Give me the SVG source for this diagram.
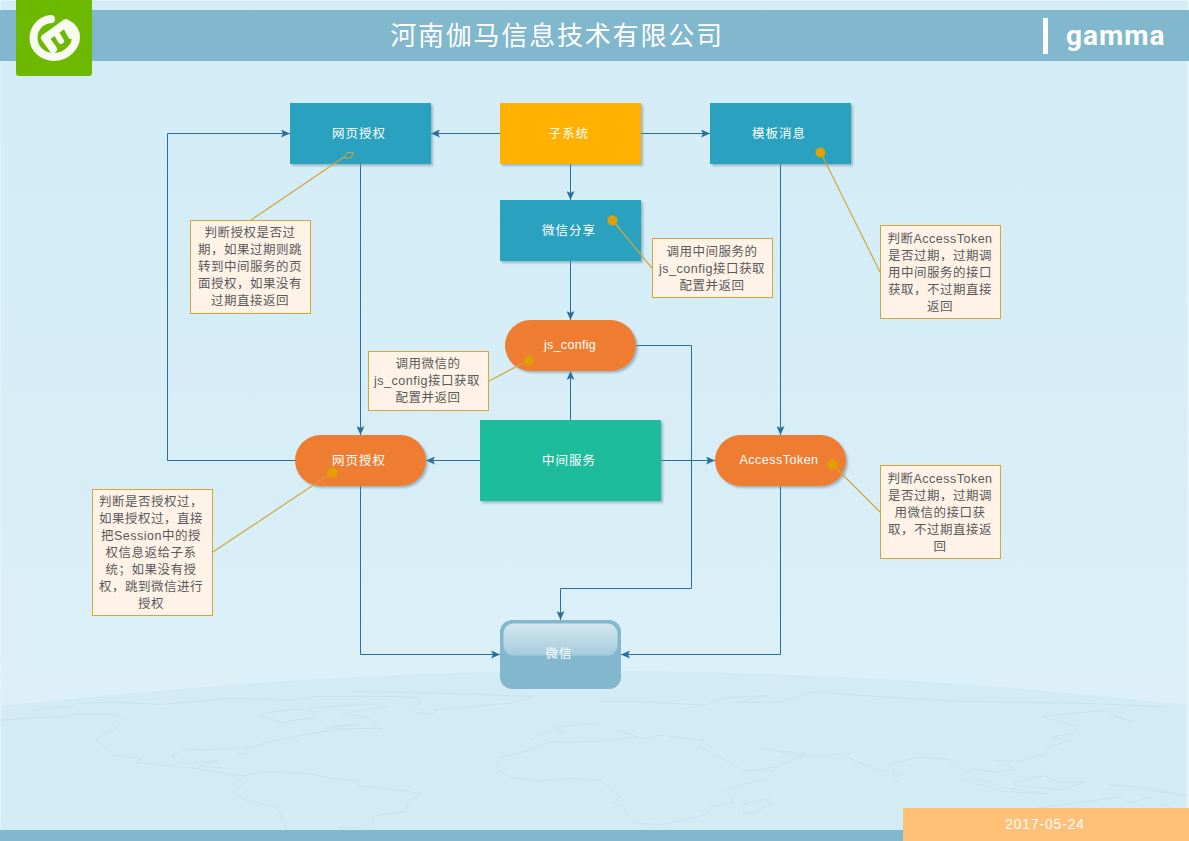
<svg xmlns="http://www.w3.org/2000/svg" width="1189" height="841" viewBox="0 0 1189 841">
<style>
.zh{font-family:"Liberation Sans","Noto Sans CJK SC",sans-serif}
.nt{font-size:12.5px;fill:#fff;text-anchor:middle;letter-spacing:1px}
.note{fill:#fff3e8;stroke:#d9a53a;stroke-width:1}
.nx{font-size:12.5px;fill:#595959;text-anchor:middle;letter-spacing:.5px}
.lead{fill:none;stroke:#d3a53c;stroke-width:1.200}
.dot{fill:#e0a000}
.c{fill:none;stroke:#2a6e9e;stroke-width:1;marker-end:url(#a)}
.map{fill:none;stroke:#c8e0ec;stroke-width:2}
</style>
<defs>
<marker id="a" markerWidth="10" markerHeight="8" refX="9" refY="4" orient="auto" markerUnits="userSpaceOnUse"><path d="M0 0L9 4L0 8L2 4Z" fill="#2a6e9e"/></marker>
<linearGradient id="bg" x1="0" y1="0" x2="0" y2="1"><stop offset="0" stop-color="#d3ecf6"/><stop offset=".55" stop-color="#d7eef7"/><stop offset=".85" stop-color="#ddf0f8"/><stop offset="1" stop-color="#ddf0f8"/></linearGradient>
<linearGradient id="gl" x1="0" y1="0" x2="0" y2="1"><stop offset="0" stop-color="#d6e8ef"/><stop offset="1" stop-color="#a4cbdb"/></linearGradient>
<filter id="s" x="-5%" y="-5%" width="115%" height="115%"><feDropShadow dx="2" dy="2" stdDeviation="1" flood-color="#6b8a99" flood-opacity=".55"/></filter>
</defs>
<g id="background">
<rect width="1189" height="841" fill="#e2f3f9"/>
<rect x="1" y="1" width="1186" height="839" fill="url(#bg)"/>
<path d="M1 706C250 680 420 671 595 671C800 671 1000 684 1186 705V841H1Z" fill="#d3ebf5"/>
<g transform="translate(0 660) scale(.3827)" class="map">
<path d="M0 157L100 150L170 148L180 140L290 140L320 150L305 180L260 198L252 212L285 235L300 250L325 252L370 258L355 268L480 280L545 288L590 298L640 302L680 292L800 295L870 310L935 315L940 330L1060 342L1105 350L1065 372L1060 395L975 408L975 425L930 440L885 438L910 450L845 462L860 490L900 502L800 492L755 465L740 420L725 385L640 365L605 345L640 322L600 300L545 288"/>
<path d="M80 135L130 125L190 122L200 113L300 110L420 116L600 100L760 105L830 95L1000 95L1095 98L1100 115L1072 122L1090 138L1130 142L1140 130L1340 112L1390 95L1100 85L920 82"/>
<path d="M675 142L770 128L830 135L815 152L760 158L740 165L675 142Z"/>
<path d="M810 125L960 115L1010 122L960 130L890 140L965 150L985 178L1000 180L850 178L940 168L870 172"/>
<path d="M640 232L720 210L800 195L850 185L960 178"/>
<path d="M450 250L480 235L620 232L625 246L650 246L640 232M450 250L465 270L510 270L570 262L520 278L590 282"/>
<path d="M1568 212L1430 216L1375 238L1305 255L1295 285L1340 308L1400 316L1490 310L1568 314M1385 208L1420 190L1475 185L1440 176L1568 165"/>
</g>
<g transform="translate(600 660) scale(.3756)" class="map">
<path d="M0 110L80 110L280 120L330 100L445 95L360 112L480 112L565 85L665 92L780 100L960 110L1280 115L1510 125L1420 120M1340 135L1420 165L1365 150M1175 150L1280 140L1340 135M1175 150L1270 175L1260 195L1205 205L1255 215L1195 230L1190 250L1110 270L1050 265L1105 290L1050 300L1000 290L975 300L930 265L850 258L780 275L760 300L730 290L640 250L550 258L425 235L550 250L470 285L385 295L285 240L260 230L280 215L160 200L120 210L40 185L100 205L0 215"/>
<path d="M385 295L465 295L440 315L335 345L355 378L295 392L285 410L170 438L90 435L60 390L35 380L55 365L0 320"/>
<path d="M380 405L385 382L455 368L460 380L410 408Z"/>
<path d="M780 298L810 305L785 312Z"/>
<path d="M950 315L1075 350L1185 356L1075 340L990 310"/>
<path d="M1105 325L1185 308L1220 325L1290 325L1230 345L1105 335Z"/>
<path d="M1350 332L1450 340L1560 360L1430 345"/>
<path d="M1105 438L1125 400L1230 385L1310 375L1380 365L1410 380L1470 365L1495 385L1545 400L1560 420L1480 445L1340 440L1240 432Z"/>
</g>
</g>
<g id="header">
<rect x="0" y="10" width="1189" height="51" fill="#81b8cd"/>
<text x="557" y="45" class="zh" font-size="26" fill="#fff" text-anchor="middle" letter-spacing="1.800">河南伽马信息技术有限公司</text>
<rect x="1043" y="18" width="5" height="36" fill="#fff"/>
<text x="1066" y="45" font-family="Roboto,'Liberation Sans',sans-serif" font-weight="700" font-size="28" fill="#fff" letter-spacing="1">gamma</text>
</g>
<g id="logo">
<rect x="16" y="-6" width="76" height="82" rx="3" fill="#6cb900"/>
<path d="M51 19C40 20 33.500 29 33.500 38C33.500 49 43 57 54 57C66 57 76 47 76 37C76 30 72 26 66 23L45 38L53 49" fill="none" stroke="#f8fbf2" stroke-width="8" stroke-linecap="round" stroke-linejoin="round"/>
<path d="M55 31L61 41M65 25L71 36" fill="none" stroke="#f8fbf2" stroke-width="6" stroke-linecap="round"/>
</g>
<g id="connectors">
<path class="c" d="M500 133.500H431"/>
<path class="c" d="M640 133.500H710"/>
<path class="c" d="M570.500 164V200"/>
<path class="c" d="M570.500 261V320"/>
<path class="c" d="M570.500 420V371"/>
<path class="c" d="M360.500 164V435"/>
<path class="c" d="M780.500 164V435"/>
<path class="c" d="M480 460.500H426"/>
<path class="c" d="M661 460.500H715"/>
<path class="c" d="M295 460.500H167.500V133.500H290"/>
<path class="c" d="M636 345.500H691.500V588.500H560.500V620"/>
<path class="c" d="M360.500 486V654.500H500"/>
<path class="c" d="M780.500 486V654.500H621"/>
</g>
<g id="n-wx-auth"><rect x="290" y="103" width="141" height="61" fill="#2ca2bf" filter="url(#s)"/><text x="359" y="138" class="zh nt">网页授权</text></g>
<g id="n-subsystem"><rect x="500" y="103" width="141" height="61" fill="#ffb000" filter="url(#s)"/><text x="569" y="138" class="zh nt">子系统</text></g>
<g id="n-template"><rect x="710" y="103" width="141" height="61" fill="#2ca2bf" filter="url(#s)"/><text x="779" y="138" class="zh nt">模板消息</text></g>
<g id="n-share"><rect x="500" y="200" width="141" height="61" fill="#2ca2bf" filter="url(#s)"/><text x="569" y="235" class="zh nt">微信分享</text></g>
<g id="n-jsconfig"><rect x="505" y="320" width="131" height="51" rx="25.500" fill="#ee7d31" filter="url(#s)"/><text x="570" y="349" class="zh nt" style="letter-spacing:.3px">js_config</text></g>
<g id="n-auth2"><rect x="295" y="435" width="131" height="51" rx="25.500" fill="#ee7d31" filter="url(#s)"/><text x="359" y="465" class="zh nt">网页授权</text></g>
<g id="n-token"><rect x="715" y="435" width="131" height="51" rx="25.500" fill="#ee7d31" filter="url(#s)"/><text x="779" y="464" class="zh nt" style="letter-spacing:.5px">AccessToken</text></g>
<g id="n-middle"><rect x="480" y="420" width="181" height="81" fill="#1abc9c" filter="url(#s)"/><text x="569" y="465" class="zh nt">中间服务</text></g>
<g id="n-wechat"><rect x="500" y="620" width="121" height="69" rx="12" fill="#81b8cd"/><rect x="503.500" y="623.500" width="114" height="32" rx="10" fill="url(#gl)"/><text x="559" y="658" class="zh nt">微信</text></g>
<g id="note-1">
<path class="lead" d="M251 220L344 157"/>
<path d="M344 157L347.500 152.500H353.500L350.500 158H345Z" fill="none" stroke="#d3a53c" stroke-width="1"/>
<rect class="note" x="190.500" y="220.500" width="120" height="93"/>
<text class="zh nx"><tspan x="250" y="237">判断授权是否过</tspan><tspan x="250" y="254">期，如果过期则跳</tspan><tspan x="250" y="271">转到中间服务的页</tspan><tspan x="250" y="288">面授权，如果没有</tspan><tspan x="250" y="305">过期直接返回</tspan></text>
</g>
<g id="note-2">
<path class="lead" d="M613 221L652 268"/>
<circle class="dot" cx="612.500" cy="220.500" r="5"/>
<rect class="note" x="652.500" y="238.500" width="120" height="59"/>
<text class="zh nx"><tspan x="712" y="256">调用中间服务的</tspan><tspan x="712" y="273">js_config接口获取</tspan><tspan x="712" y="290">配置并返回</tspan></text>
</g>
<g id="note-3">
<path class="lead" d="M821 153L880 272"/>
<circle class="dot" cx="820.500" cy="152.500" r="5"/>
<rect class="note" x="880.500" y="225.500" width="120" height="93"/>
<text class="zh nx"><tspan x="940" y="243">判断AccessToken</tspan><tspan x="940" y="260">是否过期，过期调</tspan><tspan x="940" y="277">用中间服务的接口</tspan><tspan x="940" y="294">获取，不过期直接</tspan><tspan x="940" y="311">返回</tspan></text>
</g>
<g id="note-4">
<path class="lead" d="M529 360L489 381"/>
<circle class="dot" cx="529" cy="360.500" r="5"/>
<rect class="note" x="368.500" y="351.500" width="120" height="59"/>
<text class="zh nx"><tspan x="428" y="368">调用微信的</tspan><tspan x="427" y="385">js_config接口获取</tspan><tspan x="428" y="402">配置并返回</tspan></text>
</g>
<g id="note-5">
<path class="lead" d="M333 472L213 552"/>
<circle class="dot" cx="332.500" cy="472.500" r="5"/>
<rect class="note" x="92.500" y="489.500" width="120" height="126"/>
<text class="zh nx"><tspan x="151" y="506">判断是否授权过，</tspan><tspan x="151" y="523">如果授权过，直接</tspan><tspan x="151" y="540">把Session中的授</tspan><tspan x="151" y="557">权信息返给子系</tspan><tspan x="151" y="574">统；如果没有授</tspan><tspan x="151" y="591">权，跳到微信进行</tspan><tspan x="151" y="608">授权</tspan></text>
</g>
<g id="note-6">
<path class="lead" d="M833 465L880 512"/>
<circle class="dot" cx="832.500" cy="464.500" r="5"/>
<rect class="note" x="880.500" y="465.500" width="120" height="93"/>
<text class="zh nx"><tspan x="940" y="483">判断AccessToken</tspan><tspan x="940" y="500">是否过期，过期调</tspan><tspan x="940" y="517">用微信的接口获</tspan><tspan x="940" y="534">取，不过期直接返</tspan><tspan x="940" y="551">回</tspan></text>
</g>
<g id="footer">
<rect x="0" y="830" width="903" height="11" fill="#81b8cd"/>
<rect x="903" y="808" width="286" height="33" fill="#ffc178"/>
<text x="1045" y="829" font-family="'Liberation Sans',sans-serif" font-size="14" fill="#fff" text-anchor="middle" letter-spacing=".8">2017-05-24</text>
</g>
</svg>
